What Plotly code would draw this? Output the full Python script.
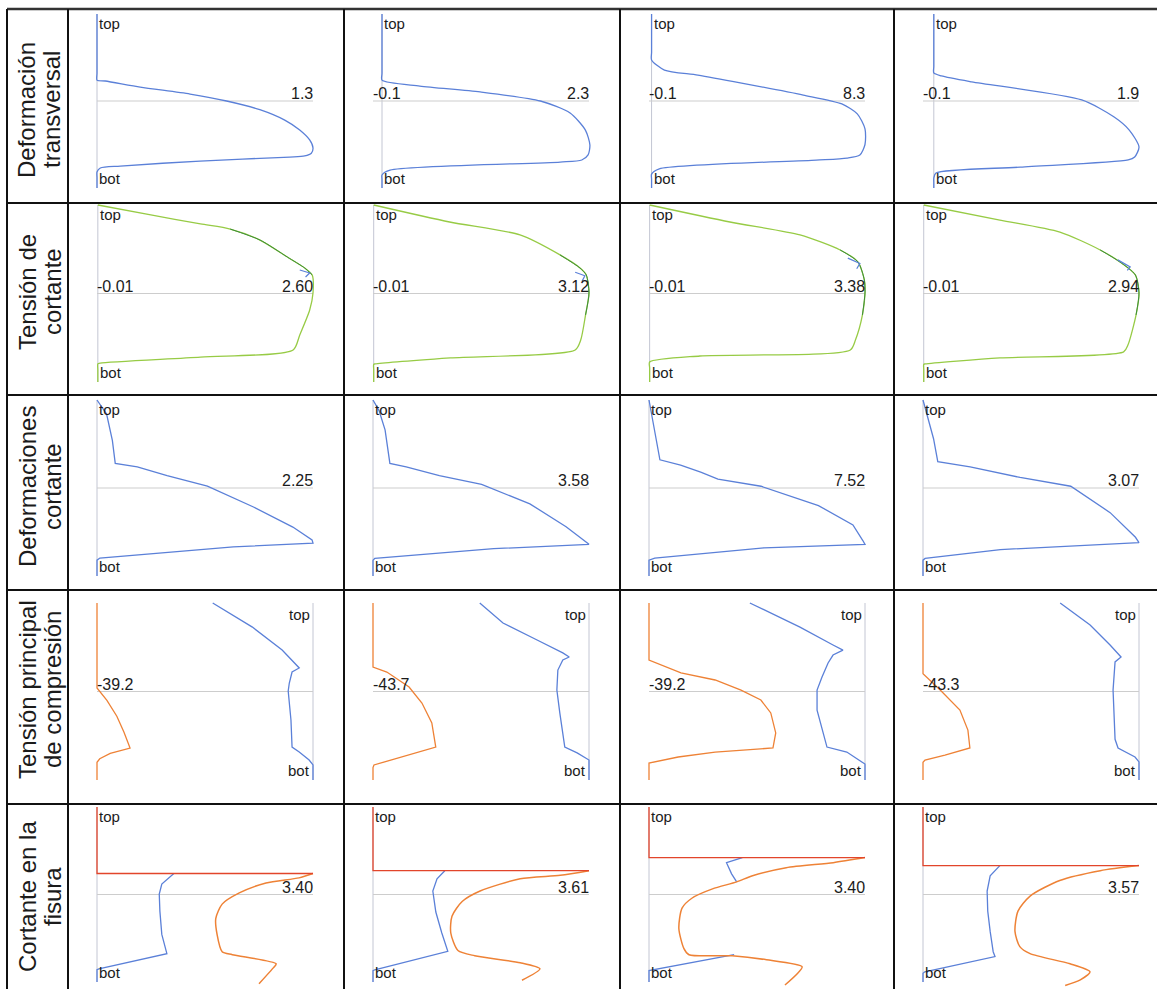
import plotly.graph_objects as go

W, H = 1157, 989

# ---------------- text ----------------
row_titles = [["Deformación", "transversal"],
              ["Tensión de", "cortante"],
              ["Deformaciones", "cortante"],
              ["Tensión principal", "de compresión"],
              ["Cortante en la", "fisura"]]
max_labels = [["1.3", "2.3", "8.3", "1.9"],
              ["2.60", "3.12", "3.38", "2.94"],
              ["2.25", "3.58", "7.52", "3.07"],
              [None, None, None, None],
              ["3.40", "3.61", "3.40", "3.57"]]
min_labels = [[None, "-0.1", "-0.1", "-0.1"],
              ["-0.01", "-0.01", "-0.01", "-0.01"],
              [None, None, None, None],
              ["-39.2", "-43.7", "-39.2", "-43.3"],
              [None, None, None, None]]

# ---------------- data (x = value, d = relative depth 0=top, 1=bot) ----------------
# Row 1: Deformación transversal
r1c1_x = [0, 0, 0, 0.05, 0.26, 0.56, 0.78, 0.98, 1.13, 1.22, 1.28, 1.30, 1.29, 1.25, 1.16, 0.62, 0.14, 0.02, 0, 0, 0]
r1c1_d = [0, 0.34, 0.38, 0.385, 0.42, 0.46, 0.50, 0.55, 0.61, 0.667, 0.724, 0.77, 0.80, 0.816, 0.822, 0.845, 0.874, 0.885, 0.908, 0.94, 1]
r1c2_x = [0, 0, 0, 0.42, 1.09, 1.76, 2.09, 2.26, 2.31, 2.29, 2.22, 1.98, 0.09, 0, 0, 0]
r1c2_d = [0, 0.34, 0.38, 0.414, 0.448, 0.50, 0.569, 0.667, 0.753, 0.81, 0.839, 0.851, 0.897, 0.925, 0.95, 1]
r1c3_x = [0, 0, 0, 0.5, 1.8, 3.5, 5.9, 7.4, 8.0, 8.3, 8.3, 8.1, 7.6, 6.4, 0.3, 0, 0, 0]
r1c3_d = [0, 0.22, 0.264, 0.322, 0.351, 0.397, 0.466, 0.517, 0.574, 0.66, 0.75, 0.81, 0.828, 0.84, 0.89, 0.92, 0.95, 1]
r1c4_x = [0, 0, 0, 0.07, 0.35, 1.37, 1.67, 1.81, 1.90, 1.86, 1.80, 0.8, 0.02, 0, 0, 0]
r1c4_d = [0, 0.30, 0.339, 0.356, 0.39, 0.494, 0.592, 0.667, 0.764, 0.822, 0.839, 0.88, 0.914, 0.943, 0.97, 1]

# Row 2: Tensión de cortante
r2c1_x = [0, 0.64, 1.24, 1.6, 1.96, 2.29, 2.5, 2.59, 2.6, 2.56, 2.44, 2.36, 1.24, 0.03, 0, 0, 0]
r2c1_d = [0, 0.056, 0.107, 0.136, 0.198, 0.294, 0.356, 0.395, 0.497, 0.593, 0.734, 0.819, 0.859, 0.893, 0.898, 0.93, 1]
r2c2_x = [0, 1.1, 2.12, 2.7, 2.99, 3.08, 3.12, 3.07, 3.0, 2.92, 1.11, 0.02, 0, 0, 0]
r2c2_d = [0, 0.096, 0.169, 0.282, 0.356, 0.395, 0.497, 0.621, 0.763, 0.819, 0.864, 0.898, 0.9, 0.93, 1]
r2c3_x = [0, 1.26, 2.36, 2.99, 3.27, 3.37, 3.38, 3.34, 3.23, 3.15, 0.79, 0, 0, 0]
r2c3_d = [0, 0.096, 0.169, 0.254, 0.322, 0.424, 0.497, 0.621, 0.763, 0.819, 0.853, 0.887, 0.92, 1]
r2c4_x = [0, 1.04, 1.86, 2.41, 2.68, 2.89, 2.94, 2.9, 2.79, 2.73, 1.04, 0.02, 0, 0, 0]
r2c4_d = [0, 0.085, 0.153, 0.254, 0.322, 0.395, 0.497, 0.621, 0.79, 0.83, 0.864, 0.898, 0.9, 0.93, 1]
r2_hook_x = [[2.44, 2.56, 2.51], [2.92, 3.06, 3.02], [3.11, 3.30, 3.25], [2.65, 2.82, 2.78]]
r2_hook_d = [[0.367, 0.384, 0.407], [0.38, 0.40, 0.43], [0.30, 0.33, 0.36], [0.31, 0.35, 0.37]]

# Row 3: Deformaciones cortante
r3c1_x = [0, 0.1, 0.16, 0.19, 0.42, 0.73, 1.15, 1.63, 2.04, 2.24, 2.25, 1.42, 0.03, 0, 0]
r3c1_d = [0, 0.08, 0.23, 0.36, 0.38, 0.43, 0.489, 0.608, 0.722, 0.795, 0.813, 0.835, 0.898, 0.91, 1]
r3c2_x = [0, 0.1, 0.2, 0.28, 0.55, 1.1, 1.8, 2.6, 3.2, 3.5, 3.58, 2.0, 0.03, 0, 0]
r3c2_d = [0, 0.06, 0.17, 0.36, 0.38, 0.43, 0.48, 0.59, 0.72, 0.8, 0.82, 0.845, 0.9, 0.91, 1]
r3c3_x = [0, 0.2, 0.38, 1.1, 1.8, 2.4, 3.9, 5.9, 7.1, 7.45, 7.52, 4.0, 0.2, 0, 0]
r3c3_d = [0, 0.17, 0.34, 0.37, 0.41, 0.45, 0.49, 0.6, 0.71, 0.8, 0.82, 0.84, 0.898, 0.91, 1]
r3c4_x = [0, 0.15, 0.21, 0.67, 1.38, 2.1, 2.66, 3.02, 3.07, 1.1, 0.03, 0, 0]
r3c4_d = [0, 0.22, 0.35, 0.38, 0.44, 0.49, 0.64, 0.78, 0.81, 0.85, 0.9, 0.91, 1]

# Row 4: Tensión principal de compresión (orange + blue)
r4c1_o_x = [-39.2, -39.2, -37.4, -35.6, -34.3, -33.2, -33.2, -36.8, -38.7, -39.2, -39.2]
r4c1_o_d = [0, 0.48, 0.55, 0.64, 0.73, 0.81, 0.82, 0.85, 0.88, 0.9, 1]
r4c1_b_x = [-18.2, -11.0, -5.6, -2.5, -3.8, -4.3, -4.5, -4.0, -3.8, -2.5, -0.7, 0, 0]
r4c1_b_d = [0, 0.136, 0.266, 0.367, 0.39, 0.452, 0.497, 0.661, 0.814, 0.842, 0.887, 0.915, 1]
r4c2_o_x = [-43.7, -43.7, -40.9, -36.4, -33.8, -31.8, -31.0, -35.0, -40.3, -43.5, -43.7, -43.7]
r4c2_o_d = [0, 0.362, 0.39, 0.475, 0.565, 0.678, 0.814, 0.847, 0.887, 0.915, 0.93, 1]
r4c2_b_x = [-22.1, -17.4, -10.5, -5.3, -4.0, -5.3, -6.3, -6.5, -5.9, -4.9, -2.4, 0, 0]
r4c2_b_d = [0, 0.113, 0.209, 0.282, 0.305, 0.322, 0.379, 0.492, 0.622, 0.814, 0.847, 0.887, 1]
r4c3_o_x = [-39.2, -39.2, -33.4, -27.2, -22.5, -18.9, -17.1, -16.2, -16.7, -27.2, -33.9, -39.2, -39.2]
r4c3_o_d = [0, 0.322, 0.395, 0.435, 0.492, 0.548, 0.621, 0.734, 0.819, 0.842, 0.870, 0.904, 1]
r4c3_b_x = [-20.9, -11.8, -5.8, -4.0, -5.8, -6.7, -7.8, -8.7, -8.7, -7.8, -6.9, -3.3, -0.4, 0, 0]
r4c3_b_d = [0, 0.136, 0.237, 0.266, 0.294, 0.339, 0.418, 0.492, 0.605, 0.718, 0.814, 0.842, 0.898, 0.91, 1]
r4c4_o_x = [-43.3, -43.3, -39.9, -35.9, -34.3, -33.9, -38.9, -42.9, -43.3, -43.3]
r4c4_o_d = [0, 0.4, 0.49, 0.605, 0.718, 0.819, 0.859, 0.887, 0.9, 1]
r4c4_b_x = [-15.8, -9.8, -5.8, -3.6, -4.8, -5.2, -4.8, -4.2, -0.8, 0, 0]
r4c4_b_d = [0, 0.124, 0.237, 0.305, 0.333, 0.492, 0.77, 0.819, 0.87, 0.898, 1]

# Row 5: Cortante en la fisura (red + blue + orange); None = hidden under orange
r5c1_r_x = [0, 0, 3.40]
r5c1_r_d = [0, 0.38, 0.38]
r5c1_b_x = [1.21, 1.02, 0.98, 0.99, 1.02, 1.09, 1.10, 0.03, 0, 0]
r5c1_b_d = [0.38, 0.44, 0.497, 0.595, 0.728, 0.827, 0.838, 0.925, 0.93, 1]
r5c1_o_x = [3.40, 3.18, 2.66, 2.24, 1.97, 1.87, 1.89, 1.97, 2.13, 2.82, 2.76, 2.55]
r5c1_o_d = [0.38, 0.405, 0.434, 0.491, 0.555, 0.636, 0.728, 0.827, 0.844, 0.896, 0.925, 1.01]
r5c2_r_x = [0, 0, 3.61]
r5c2_r_d = [0, 0.364, 0.364]
r5c2_b_x = [1.2, 1.07, 1.0, 1.05, 1.15, 1.25, 0.03, 0, 0]
r5c2_b_d = [0.364, 0.41, 0.48, 0.6, 0.72, 0.825, 0.93, 0.935, 1]
r5c2_o_x = [3.61, 3.13, 2.46, 1.79, 1.49, 1.32, 1.3, 1.42, 1.7, 2.46, 2.79, 2.49]
r5c2_o_d = [0.364, 0.39, 0.41, 0.48, 0.54, 0.624, 0.72, 0.82, 0.85, 0.89, 0.925, 0.99]
r5c3_r_x = [0, 0, 3.40]
r5c3_r_d = [0, 0.289, 0.289]
r5c3_b_x = [1.47, 1.22, 1.3, 1.38, None, 1.34, 0.03, 0, 0]
r5c3_b_d = [0.289, 0.318, 0.382, 0.428, None, 0.844, 0.93, 0.935, 1]
r5c3_o_x = [3.40, 2.9, 2.16, 1.63, 1.38, 1.0, 0.68, 0.52, 0.47, 0.55, 0.63, 1.31, 1.85, 2.41, 2.33, 2.14]
r5c3_o_d = [0.289, 0.318, 0.347, 0.393, 0.428, 0.468, 0.52, 0.578, 0.694, 0.809, 0.844, 0.85, 0.873, 0.913, 0.954, 1.017]
r5c4_r_x = [0, 0, 3.57]
r5c4_r_d = [0, 0.335, 0.335]
r5c4_b_x = [1.27, 1.11, 1.06, 1.07, 1.11, 1.16, 1.19, 0.03, 0, 0]
r5c4_b_d = [0.335, 0.393, 0.48, 0.595, 0.711, 0.827, 0.855, 0.942, 0.95, 1]
r5c4_o_x = [3.57, 2.93, 2.26, 1.77, 1.57, 1.52, 1.6, 1.77, 2.43, 2.76, 2.6, 2.35]
r5c4_o_d = [0.335, 0.364, 0.42, 0.509, 0.595, 0.711, 0.798, 0.838, 0.896, 0.942, 0.988, 1.02]

BLUE = "#5b80d8"
GREEN = "#97cb45"
DKGREEN = "#3d8d3a"
ORANGE = "#ee8236"
RED = "#e2452b"

# (x, d, colour, smooth?)
curves = {
    (0, 0): [(r1c1_x, r1c1_d, BLUE, True)], (0, 1): [(r1c2_x, r1c2_d, BLUE, True)],
    (0, 2): [(r1c3_x, r1c3_d, BLUE, True)], (0, 3): [(r1c4_x, r1c4_d, BLUE, True)],
    (1, 0): [(r2c1_x, r2c1_d, GREEN, True)], (1, 1): [(r2c2_x, r2c2_d, GREEN, True)],
    (1, 2): [(r2c3_x, r2c3_d, GREEN, True)], (1, 3): [(r2c4_x, r2c4_d, GREEN, True)],
    (2, 0): [(r3c1_x, r3c1_d, BLUE, False)], (2, 1): [(r3c2_x, r3c2_d, BLUE, False)],
    (2, 2): [(r3c3_x, r3c3_d, BLUE, False)], (2, 3): [(r3c4_x, r3c4_d, BLUE, False)],
    (3, 0): [(r4c1_o_x, r4c1_o_d, ORANGE, False), (r4c1_b_x, r4c1_b_d, BLUE, False)],
    (3, 1): [(r4c2_o_x, r4c2_o_d, ORANGE, False), (r4c2_b_x, r4c2_b_d, BLUE, False)],
    (3, 2): [(r4c3_o_x, r4c3_o_d, ORANGE, False), (r4c3_b_x, r4c3_b_d, BLUE, False)],
    (3, 3): [(r4c4_o_x, r4c4_o_d, ORANGE, False), (r4c4_b_x, r4c4_b_d, BLUE, False)],
    (4, 0): [(r5c1_b_x, r5c1_b_d, BLUE, False), (r5c1_o_x, r5c1_o_d, ORANGE, True), (r5c1_r_x, r5c1_r_d, RED, False)],
    (4, 1): [(r5c2_b_x, r5c2_b_d, BLUE, False), (r5c2_o_x, r5c2_o_d, ORANGE, True), (r5c2_r_x, r5c2_r_d, RED, False)],
    (4, 2): [(r5c3_b_x, r5c3_b_d, BLUE, False), (r5c3_o_x, r5c3_o_d, ORANGE, True), (r5c3_r_x, r5c3_r_d, RED, False)],
    (4, 3): [(r5c4_b_x, r5c4_b_d, BLUE, False), (r5c4_o_x, r5c4_o_d, ORANGE, True), (r5c4_r_x, r5c4_r_d, RED, False)],
}

# ---------------- layout geometry (pixels) ----------------
col_left = [68, 344, 620, 894]
row_div = [9, 203, 395, 590, 804]
row_top = [14, 205, 400, 603, 807]
row_bot = [188, 382, 576, 780, 982]
title_y = [110, 292, 487, 690, 897]
title_x = [27, 52]
PX0, PX1 = 29, 245
PAD = 12

fig = go.Figure()
layout = dict(width=W, height=H, margin=dict(l=0, r=0, t=0, b=0),
              paper_bgcolor="white", plot_bgcolor="rgba(0,0,0,0)", showlegend=False)
annotations = []
shapes = []
TXT = dict(family="Liberation Sans, Arial, sans-serif", color="#1b1b1b")

for r in range(5):
    for c in range(4):
        k = r * 4 + c + 1
        xa = "x" if k == 1 else f"x{k}"
        ya = "y" if k == 1 else f"y{k}"
        xmin = float(min_labels[r][c]) if min_labels[r][c] else 0.0
        xmax = float(max_labels[r][c]) if max_labels[r][c] else 0.0
        xl = col_left[c] + PX0
        xr = col_left[c] + PX1
        sc = (xr - xl) / (xmax - xmin)
        top, bot = row_top[r], row_bot[r]
        hs = bot - top
        p_top = max(0, top - PAD)
        p_bot = min(H, bot + PAD)
        p_left = max(0, xl - PAD)
        p_right = min(W, xr + PAD)
        layout["xaxis" + ("" if k == 1 else str(k))] = dict(
            domain=[p_left / W, p_right / W],
            range=[xmin + (p_left - xl) / sc, xmax + (p_right - xr) / sc],
            visible=False, fixedrange=True)
        layout["yaxis" + ("" if k == 1 else str(k))] = dict(
            domain=[1 - p_bot / H, 1 - p_top / H],
            range=[(p_bot - top) / hs, (p_top - top) / hs], visible=False, fixedrange=True)

        # zero axis line and reference line
        fig.add_trace(go.Scatter(x=[0, 0], y=[0, 1], mode="lines",
                                 line=dict(color="#c3c6d3", width=1), xaxis=xa, yaxis=ya,
                                 hoverinfo="skip"))
        fig.add_trace(go.Scatter(x=[xmin, xmax], y=[0.5, 0.5], mode="lines",
                                 line=dict(color="#cdcdcd", width=1), xaxis=xa, yaxis=ya,
                                 hoverinfo="skip"))
        for (cx, cd, col, smooth) in curves[(r, c)]:
            ln = dict(color=col, width=1.5 if col == ORANGE and r == 4 else 1.3)
            if smooth:
                ln.update(shape="spline", smoothing=0.7)
            fig.add_trace(go.Scatter(x=cx, y=cd, mode="lines", line=ln, connectgaps=False,
                                     xaxis=xa, yaxis=ya, hoverinfo="skip"))
        if r == 1:
            cx, cd = curves[(r, c)][0][0], curves[(r, c)][0][1]
            fig.add_trace(go.Scatter(x=cx[3:8], y=cd[3:8], mode="lines",
                                     line=dict(color=DKGREEN, width=1, shape="spline", smoothing=0.7),
                                     xaxis=xa, yaxis=ya, hoverinfo="skip"))
            fig.add_trace(go.Scatter(x=r2_hook_x[c], y=r2_hook_d[c], mode="lines",
                                     line=dict(color=BLUE, width=1.2), xaxis=xa, yaxis=ya,
                                     hoverinfo="skip"))

        # labels
        if r == 3:
            annotations.append(dict(x=0, y=0, xref=xa, yref=ya, text="top", showarrow=False,
                                    xanchor="right", yanchor="top", xshift=-1, yshift=-1,
                                    font=dict(size=15, **TXT)))
            annotations.append(dict(x=0, y=1, xref=xa, yref=ya, text="bot", showarrow=False,
                                    xanchor="right", yanchor="bottom", xshift=-1, yshift=-1,
                                    font=dict(size=15, **TXT)))
        else:
            annotations.append(dict(x=0, y=0, xref=xa, yref=ya, text="top", showarrow=False,
                                    xanchor="left", yanchor="top", xshift=0, yshift=1,
                                    font=dict(size=15, **TXT)))
            annotations.append(dict(x=0, y=1, xref=xa, yref=ya, text="bot", showarrow=False,
                                    xanchor="left", yanchor="bottom", xshift=0, yshift=-1,
                                    font=dict(size=15, **TXT)))
        if max_labels[r][c]:
            annotations.append(dict(x=xmax, y=0.5, xref=xa, yref=ya, text=max_labels[r][c],
                                    showarrow=False, xanchor="right", yanchor="bottom",
                                    xshift=2, yshift=-3, font=dict(size=16, **TXT)))
        if min_labels[r][c]:
            annotations.append(dict(x=xmin, y=0.5, xref=xa, yref=ya, text=min_labels[r][c],
                                    showarrow=False, xanchor="left", yanchor="bottom",
                                    xshift=-2, yshift=-3, font=dict(size=16, **TXT)))

# row titles
for r in range(5):
    for j in range(2):
        annotations.append(dict(x=title_x[j] / W, y=1 - title_y[r] / H, xref="paper", yref="paper",
                                text=row_titles[r][j], textangle=-90, showarrow=False,
                                xanchor="center", yanchor="middle",
                                font=dict(size=24, **TXT)))

# table grid
LINE = dict(color="#111111", width=2)
shapes.append(dict(type="line", xref="paper", yref="paper", x0=7 / W, x1=1.0,
                   y0=1 - row_div[0] / H, y1=1 - row_div[0] / H, line=dict(color="#333333", width=2.5)))
for yd in row_div[1:]:
    shapes.append(dict(type="line", xref="paper", yref="paper", x0=7 / W, x1=1.0,
                       y0=1 - yd / H, y1=1 - yd / H, line=LINE))
for xd in [7] + col_left:
    shapes.append(dict(type="line", xref="paper", yref="paper", x0=xd / W, x1=xd / W,
                       y0=1 - row_div[0] / H, y1=0, line=LINE))

layout["annotations"] = annotations
layout["shapes"] = shapes
fig.update_layout(**layout)
fig.write_html("out.html", config={"displayModeBar": False},
               post_script="document.body.style.margin='0px';document.body.style.overflow='hidden';")
